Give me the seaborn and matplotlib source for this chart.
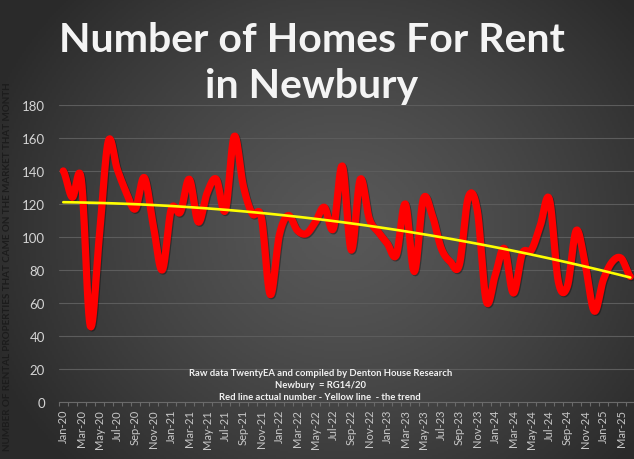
import numpy as np
import pandas as pd
import matplotlib
matplotlib.use("Agg")
import matplotlib.pyplot as plt
import matplotlib.patheffects as pe
import seaborn as sns

# monthly count of homes coming to the rental market, Newbury (Jan-20 .. Apr-25)
start_month = "2020-01"
homes = [140, 124, 135, 46, 100, 158, 141, 127, 117, 136, 107, 80,
         117, 115, 135, 109, 127, 135, 116, 161, 131, 114, 112, 65,
         101, 113, 104, 102, 109, 118, 105, 143, 92, 135, 111, 103,
         96, 89, 120, 79, 123, 113, 93, 85, 83, 124, 116, 61,
         77, 93, 66, 90, 92, 107, 123, 73, 70, 104, 83, 55,
         74, 85, 87, 76]
months = pd.date_range(start_month, periods=len(homes), freq="MS").strftime("%b-%y").tolist()
y_ticks = [0, 20, 40, 60, 80, 100, 120, 140, 160, 180]

title = "Number of Homes For Rent\nin Newbury"
y_label = "NUMBER OF RENTAL PROPERTIES THAT CAME ON THE MARKET THAT MONTH"
notes = ["Raw data TwentyEA and compiled by Denton House Research",
         "Newbury  = RG14/20",
         "Red line actual number - Yellow line  - the trend"]

df = pd.DataFrame({"idx": np.arange(len(homes)), "homes": homes})


def smooth(y, steps=12):
    # catmull-rom curve through the points, like Excel's "smoothed line"
    y = np.asarray(y, dtype=float)
    p = np.concatenate([[y[0]], y, [y[-1]]])
    xs, ys = [], []
    t = np.linspace(0, 1, steps, endpoint=False)
    for i in range(len(y) - 1):
        p0, p1, p2, p3 = p[i], p[i + 1], p[i + 2], p[i + 3]
        seg = 0.5 * (2 * p1 + (-p0 + p2) * t + (2 * p0 - 5 * p1 + 4 * p2 - p3) * t ** 2
                     + (-p0 + 3 * p1 - 3 * p2 + p3) * t ** 3)
        xs.extend(i + t)
        ys.extend(seg)
    xs.append(len(y) - 1)
    ys.append(y[-1])
    return pd.DataFrame({"idx": xs, "homes": ys})


sns.set_style("dark")
plt.rcParams["font.family"] = ["Lato", "DejaVu Sans"]

fig = plt.figure(figsize=(6.34, 4.6), dpi=100)

# radial grey background
bg = fig.add_axes([0, 0, 1, 1], zorder=-10)
gx, gy = np.meshgrid(np.linspace(0, 1, 317), np.linspace(0, 1, 230))
r = np.sqrt(((gx - 0.54) / 0.6) ** 2 + ((gy - 0.5) / 0.75) ** 2)
shade = 0.345 - 0.18 * np.clip(r, 0, 1) ** 1.3
bg.imshow(np.dstack([shade] * 3), extent=[0, 1, 0, 1], aspect="auto", origin="lower")
bg.axis("off")

ax = fig.add_axes([0.0927, 0.124, 0.91, 0.6457])
ax.set_facecolor("none")

sns.lineplot(data=smooth(homes), x="idx", y="homes", ax=ax, color="#ff0000",
             linewidth=5.2, sort=False, estimator=None,
             path_effects=[pe.SimpleLineShadow(offset=(0.8, -0.8), shadow_color="black", alpha=0.35),
                           pe.Normal()])
ax.lines[-1].set_solid_capstyle("round")
ax.lines[-1].set_solid_joinstyle("round")

sns.regplot(data=df, x="idx", y="homes", ax=ax, order=2, ci=None, scatter=False,
            truncate=True, line_kws={"color": "#ffff00", "linewidth": 1.9, "zorder": 5})

ax.set_xlim(-0.5, 63.6)
ax.set_ylim(0, 180)
ax.set_yticks(y_ticks)
ax.set_xticks(np.arange(0, len(months), 2))
ax.set_xticklabels(months[::2], rotation=90)
ax.set_xticks(np.arange(-0.5, len(months), 1), minor=True)
ax.tick_params(axis="x", which="major", length=0, labelsize=8, colors="#c8c8c8", pad=5)
ax.tick_params(axis="x", which="minor", length=3, color="#6a6a6a", width=0.8, bottom=True)
ax.tick_params(axis="y", length=0, labelsize=9.5, colors="#d4d4d4", pad=10)
ax.grid(axis="y", color="#5c5c5c", linewidth=0.8)
ax.grid(axis="x", visible=False)
for s in ["top", "right", "left"]:
    ax.spines[s].set_visible(False)
ax.spines["bottom"].set_color("#6a6a6a")
ax.spines["bottom"].set_linewidth(0.8)
ax.set_xlabel("")
ax.set_ylabel("")

fig.text(0.492, 0.862, title, ha="center", va="center", color="#f4f4f4",
         fontsize=29.5, fontweight="bold", linespacing=1.3)
fig.text(0.012, 0.42, y_label, rotation=90, ha="center", va="center",
         color="#1c1c1c", fontsize=7.1, fontweight="bold")
for note, yy in zip(notes, [0.189, 0.161, 0.135]):
    fig.text(0.505, yy, note, ha="center", va="center", color="#f2f2f2",
             fontsize=6.8, fontweight="bold")

fig.savefig("out.png", dpi=100)
